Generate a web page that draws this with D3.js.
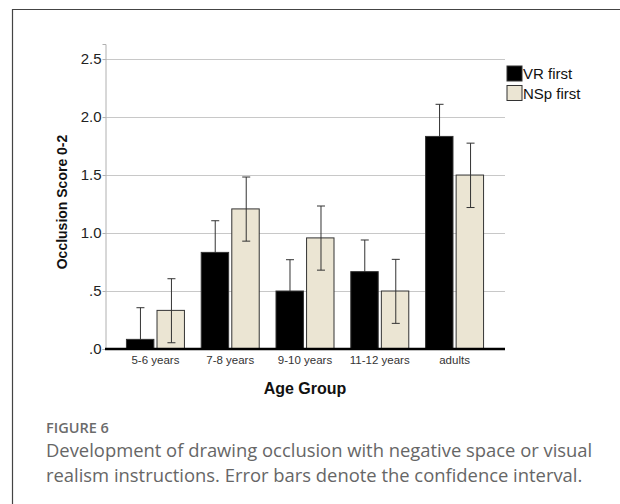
<!DOCTYPE html>
<html>
<head>
<meta charset="utf-8">
<script src="https://cdn.jsdelivr.net/npm/d3@7"></script>
<style>
  body { margin: 0; background: #fff; }
  svg { display: block; }
</style>
</head>
<body>
<svg id="chart" width="620" height="504"></svg>
<script>
/// Data ///
const ageGroups = ["5-6 years", "7-8 years", "9-10 years", "11-12 years", "adults"];
const seriesNames = ["VR first", "NSp first"];

// means
const vrFirst = [0.083, 0.833, 0.5, 0.667, 1.833];
const nspFirst = [0.333, 1.208, 0.958, 0.5, 1.5];
// confidence intervals (lower / upper)
const vrLow = [-0.19, 0.56, 0.23, 0.39, 1.56];
const vrHigh = [0.356, 1.106, 0.77, 0.94, 2.11];
const nspLow = [0.054, 0.93, 0.68, 0.221, 1.22];
const nspHigh = [0.606, 1.483, 1.233, 0.773, 1.775];

const yTicks = [0, 0.5, 1.0, 1.5, 2.0, 2.5];

const colors = { "VR first": "#000000", "NSp first": "#ebe5d3" };

/// Chart ///
const svg = d3.select("#chart");

// figure frame
svg.append("path")
    .attr("d", "M12.5,504 V9.5 H620")
    .attr("fill", "none")
    .attr("stroke", "#444")
    .attr("stroke-width", 1.2);

const plotLeft = 105, plotRight = 505, plotTop = 44, plotBottom = 349;

const x0 = d3.scaleBand()
    .domain(ageGroups)
    .range([plotLeft, plotRight])
    .paddingInner(0.211)
    .paddingOuter(0.28);

const x1 = d3.scaleBand()
    .domain(seriesNames)
    .range([0, x0.bandwidth()])
    .paddingInner(0.07);

const y = d3.scaleLinear()
    .domain([0, 2.63])
    .range([plotBottom, plotTop]);

// gridlines
svg.append("g")
    .selectAll("line")
    .data(yTicks.filter(d => d > 0))
    .join("line")
        .attr("x1", plotLeft)
        .attr("x2", plotRight)
        .attr("y1", d => Math.round(y(d)) + 0.5)
        .attr("y2", d => Math.round(y(d)) + 0.5)
        .attr("stroke", "#c8c8c8");

// y axis
const fmt = d => d3.format(".1f")(d).replace(/^0/, "");
const yAxis = svg.append("g")
    .attr("transform", `translate(${plotLeft + 0.5},0)`)
    .call(d3.axisLeft(y).tickValues(yTicks).tickFormat(fmt).tickSizeOuter(0).tickSize(3).tickPadding(1));
yAxis.select(".domain").attr("stroke", "#b0b0b0");
yAxis.selectAll(".tick line").attr("stroke", "#b0b0b0");
yAxis.selectAll("text")
    .attr("font-family", "Liberation Sans, Arial, sans-serif")
    .attr("font-size", 15)
    .attr("fill", "#222");

// bars + error bars (each error bar sits right after its bar... except VR, whose lower whisker hides in the black bar)
const table = ageGroups.map((g, i) => ({
    group: g,
    values: [
        { key: "VR first", mean: vrFirst[i], lo: vrLow[i], hi: vrHigh[i] },
        { key: "NSp first", mean: nspFirst[i], lo: nspLow[i], hi: nspHigh[i] }
    ]
}));

const groups = svg.append("g")
    .selectAll("g")
    .data(table)
    .join("g")
        .attr("transform", d => `translate(${x0(d.group)},0)`);

const cap = 4;
function drawErr(sel) {
    const g = sel.append("g")
        .attr("transform", d => `translate(${Math.round(x1(d.key) + x1.bandwidth() / 2) + 0.5},0)`)
        .attr("stroke", "#333")
        .attr("stroke-width", 1);
    g.append("line")
        .attr("y1", d => y(Math.max(0, d.lo)))
        .attr("y2", d => y(d.hi));
    g.append("line")
        .attr("x1", -cap).attr("x2", cap)
        .attr("y1", d => y(d.hi)).attr("y2", d => y(d.hi));
    g.filter(d => d.lo > 0).append("line")
        .attr("x1", -cap).attr("x2", cap)
        .attr("y1", d => y(d.lo)).attr("y2", d => y(d.lo));
}
function drawBar(sel) {
    sel.append("rect")
        .attr("x", d => x1(d.key) + 0.5)
        .attr("y", d => y(d.mean))
        .attr("width", x1.bandwidth() - 1)
        .attr("height", d => y(0) - y(d.mean))
        .attr("fill", d => colors[d.key])
        .attr("stroke", "#333")
        .attr("stroke-width", 1);
}

groups.each(function(d) {
    const g = d3.select(this);
    const vr = g.append("g").datum(d.values[0]);
    drawErr(vr);
    drawBar(vr);
    const nsp = g.append("g").datum(d.values[1]);
    drawBar(nsp);
    drawErr(nsp);
});

// baseline
svg.append("line")
    .attr("x1", plotLeft)
    .attr("x2", plotRight)
    .attr("y1", y(0))
    .attr("y2", y(0))
    .attr("stroke", "#000")
    .attr("stroke-width", 2.5);

// x labels
svg.append("g")
    .selectAll("text")
    .data(ageGroups)
    .join("text")
        .attr("x", d => x0(d) + x0.bandwidth() / 2)
        .attr("y", 364)
        .attr("text-anchor", "middle")
        .attr("font-family", "Liberation Sans, Arial, sans-serif")
        .attr("font-size", 11.5)
        .attr("fill", "#333")
        .text(d => d);

// axis titles
svg.append("text")
    .attr("x", (plotLeft + plotRight) / 2)
    .attr("y", 394)
    .attr("text-anchor", "middle")
    .attr("font-family", "Liberation Sans, Arial, sans-serif")
    .attr("font-weight", "bold")
    .attr("font-size", 16)
    .attr("fill", "#111")
    .text("Age Group");

svg.append("text")
    .attr("transform", "translate(67,202) rotate(-90)")
    .attr("text-anchor", "middle")
    .attr("font-family", "Liberation Sans, Arial, sans-serif")
    .attr("font-weight", "bold")
    .attr("font-size", 14)
    .attr("fill", "#111")
    .text("Occlusion Score 0-2");

// legend
const legend = svg.append("g")
    .selectAll("g")
    .data(seriesNames)
    .join("g")
        .attr("transform", (d, i) => `translate(507,${66 + i * 19.5})`);
legend.append("rect")
    .attr("width", 15)
    .attr("height", 15)
    .attr("fill", d => colors[d])
    .attr("stroke", "#333");
legend.append("text")
    .attr("x", 16)
    .attr("y", 13)
    .attr("font-family", "Liberation Sans, Arial, sans-serif")
    .attr("font-size", 15)
    .attr("fill", "#111")
    .text(d => d);

// caption
svg.append("text")
    .attr("x", 46)
    .attr("y", 433)
    .attr("font-family", "Open Sans, sans-serif")
    .attr("font-weight", 600)
    .attr("font-size", 14.5)
    .attr("fill", "#6b6b6b")
    .text("FIGURE 6");

const captionLines = [
    "Development of drawing occlusion with negative space or visual",
    "realism instructions. Error bars denote the confidence interval."
];
svg.append("g")
    .selectAll("text")
    .data(captionLines)
    .join("text")
        .attr("x", 46)
        .attr("y", (d, i) => 457 + i * 24.5)
        .attr("font-family", "Open Sans, sans-serif")
        .attr("font-size", 18.4)
        .attr("fill", "#666")
        .text(d => d);
</script>
</body>
</html>
